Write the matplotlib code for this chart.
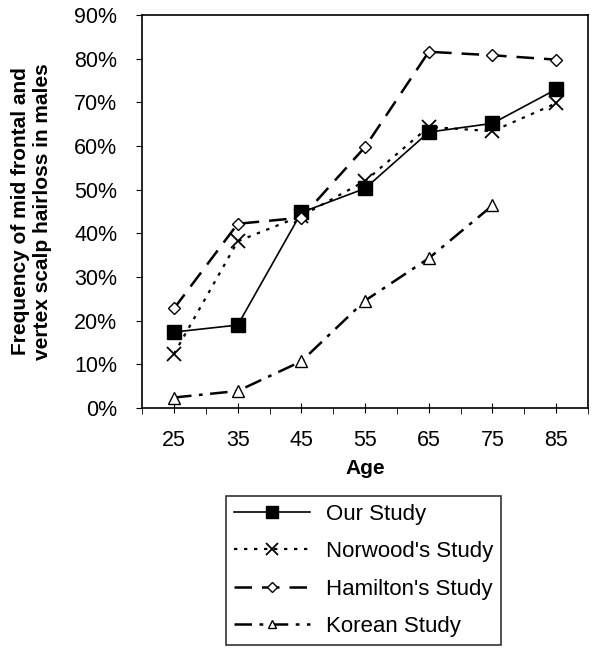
import matplotlib
matplotlib.use('Agg')
import matplotlib.pyplot as plt
from matplotlib.ticker import PercentFormatter

plt.rcParams['font.family'] = ['Liberation Sans', 'DejaVu Sans']

ages = [25, 35, 45, 55, 65, 75, 85]
our_study = [17.4, 19.0, 44.8, 50.3, 63.2, 65.2, 73.0]
norwood = [12.4, 38.2, 44.0, 52.0, 64.4, 63.4, 69.8]
hamilton = [22.8, 42.2, 43.6, 59.8, 81.6, 80.8, 79.8]
korean_ages = [25, 35, 45, 55, 65, 75]
korean = [2.4, 3.9, 10.7, 24.6, 34.3, 46.4]

fig = plt.figure(figsize=(6, 6.57), dpi=100)
ax = fig.add_axes([0.237, 0.379, 0.743, 0.598])

ax.plot(ages, our_study, color='black', lw=1.2, ls='-', marker='s', ms=10,
        mfc='black', mec='black', label='Our Study')
ax.plot(ages, norwood, color='black', lw=1.6, ls=(0, (1.5, 3)), marker='x', ms=10,
        mew=1.3, label="Norwood's Study")
ax.plot(ages, hamilton, color='black', lw=1.8, ls=(0, (7, 4)), marker='D', ms=6,
        mfc='white', mec='black', mew=1.0, label="Hamilton's Study")
ax.plot(korean_ages, korean, color='black', lw=1.8, ls=(0, (7, 3, 1.5, 3)), marker='^',
        ms=8, mfc='white', mec='black', mew=1.0, label='Korean Study')

ax.set_xlim(20, 90)
ax.set_ylim(0, 90)
ax.set_xticks(ages)
ax.set_xticks([20, 30, 40, 50, 60, 70, 80, 90], minor=True)
ax.set_yticks(range(0, 91, 10))
ax.yaxis.set_major_formatter(PercentFormatter(decimals=0))
ax.tick_params(axis='both', which='both', direction='out', length=4, color='black')
ax.tick_params(axis='x', which='major', direction='inout', length=7)
ax.tick_params(axis='y', labelsize=15.5, pad=14)
ax.tick_params(axis='x', labelsize=15.5, pad=12)

for s in ax.spines.values():
    s.set_color('black')
    s.set_linewidth(1.2)

ax.set_xlabel('Age', fontsize=15, fontweight='bold', labelpad=6)
ax.set_ylabel('Frequency of mid frontal and\nvertex scalp hairloss in males',
              fontsize=15, fontweight='bold', labelpad=16)

leg = fig.legend(loc='upper left', bbox_to_anchor=(0.377, 0.245), fontsize=16,
                 frameon=True, fancybox=False, edgecolor='black', handlelength=3.4,
                 labelspacing=0.74, borderpad=0.35, handletextpad=0.75,
                 borderaxespad=0, markerscale=0.8)
leg.get_frame().set_linewidth(1.2)

plt.savefig('out.png')
